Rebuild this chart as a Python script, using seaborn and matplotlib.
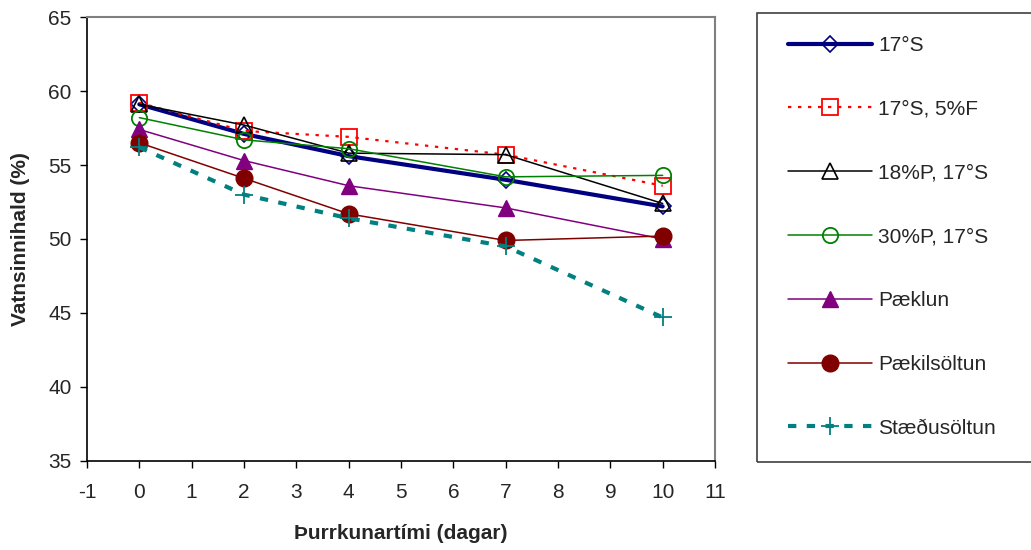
import matplotlib
matplotlib.use("Agg")
import matplotlib.pyplot as plt
import seaborn as sns
import numpy as np
import pandas as pd
from matplotlib.patches import Rectangle

days = [0, 2, 4, 7, 10]
series_names = ["17°S", "17°S, 5%F", "18%P, 17°S", "30%P, 17°S", "Pæklun", "Pækilsöltun", "Stæðusöltun"]
s17 = [59.1, 57.1, 55.6, 54.0, 52.2]
s17_5F = [59.2, 57.3, 56.9, 55.7, 53.6]
p18_s17 = [59.1, 57.7, 55.8, 55.7, 52.4]
p30_s17 = [58.2, 56.7, 56.1, 54.2, 54.3]
paeklun = [57.4, 55.3, 53.6, 52.1, 50.0]
paekil = [56.5, 54.1, 51.7, 49.9, 50.2]
staedu = [56.2, 53.0, 51.4, 49.5, 44.7]
values = [s17, s17_5F, p18_s17, p30_s17, paeklun, paekil, staedu]

x_ticks = list(range(-1, 12))
y_ticks = [35, 40, 45, 50, 55, 60, 65]

styles = [
    dict(color="#000080", lw=3.0, ls="-", marker="D", ms=8.5, mfc="none", mew=1.2),
    dict(color="#FF0000", lw=1.6, ls=(0, (1.5, 3)), marker="s", ms=11, mfc="none", mew=1.3),
    dict(color="#000000", lw=1.1, ls="-", marker="^", ms=12, mfc="none", mew=1.2),
    dict(color="#008000", lw=1.1, ls="-", marker="o", ms=11, mfc="none", mew=1.3),
    dict(color="#800080", lw=1.1, ls="-", marker="^", ms=12, mfc="#800080", mew=1.0),
    dict(color="#800000", lw=1.1, ls="-", marker="o", ms=12, mfc="#800000", mew=1.0),
    dict(color="#008080", lw=3.0, ls=(0, (2, 2.5)), marker="+", ms=13, mfc="none", mew=1.3),
]

sns.set_theme(style="white")
plt.rcParams["font.family"] = ["Liberation Sans", "DejaVu Sans"]
plt.rcParams["axes.unicode_minus"] = False

FS = 15

fig = plt.figure(figsize=(10.31, 5.5), dpi=100)
ax = fig.add_axes([87 / 1031, 1 - 461 / 550, (715 - 87) / 1031, (461 - 17) / 550])

for name, vals, st in zip(series_names, values, styles):
    df = pd.DataFrame({"x": days, "y": vals})
    sns.lineplot(data=df, x="x", y="y", ax=ax, label=name, color=st["color"],
                 linewidth=st["lw"], linestyle=st["ls"], marker=st["marker"],
                 markersize=st["ms"], markerfacecolor=st["mfc"],
                 markeredgecolor=st["color"], markeredgewidth=st["mew"],
                 legend=False)

ax.set_xlim(-1, 11)
ax.set_ylim(35, 65)
ax.set_xticks(x_ticks)
ax.set_yticks(y_ticks)
ax.tick_params(axis="both", direction="out", length=5, width=1, color="black",
               labelsize=FS, bottom=True, left=True)
ax.tick_params(axis="x", pad=11)
ax.tick_params(axis="y", pad=6)
for s in ["left", "bottom"]:
    ax.spines[s].set_color("black")
    ax.spines[s].set_linewidth(1.2)
for s in ["top", "right"]:
    ax.spines[s].set_color("#808080")
    ax.spines[s].set_linewidth(1.5)
ax.grid(False)
ax.set_xlabel("Þurrkunartími (dagar)", fontsize=FS, fontweight="bold", labelpad=16)
ax.set_ylabel("Vatnsinnihald (%)", fontsize=FS, fontweight="bold", labelpad=13)

# legend box
fig.patches.append(Rectangle((757 / 1031, 1 - 462 / 550), (1040 - 757) / 1031, (462 - 13) / 550,
                             transform=fig.transFigure, fill=False, edgecolor="#404040",
                             linewidth=1.2, figure=fig))
handles, labels = ax.get_legend_handles_labels()
leg = fig.legend(handles, labels, loc="upper left", bbox_to_anchor=(788 / 1031, 1 - 36 / 550),
                 frameon=False, fontsize=FS, handlelength=4.05, handletextpad=0.29,
                 labelspacing=2.15, borderpad=0, borderaxespad=0)

fig.savefig("out.png", dpi=100)
